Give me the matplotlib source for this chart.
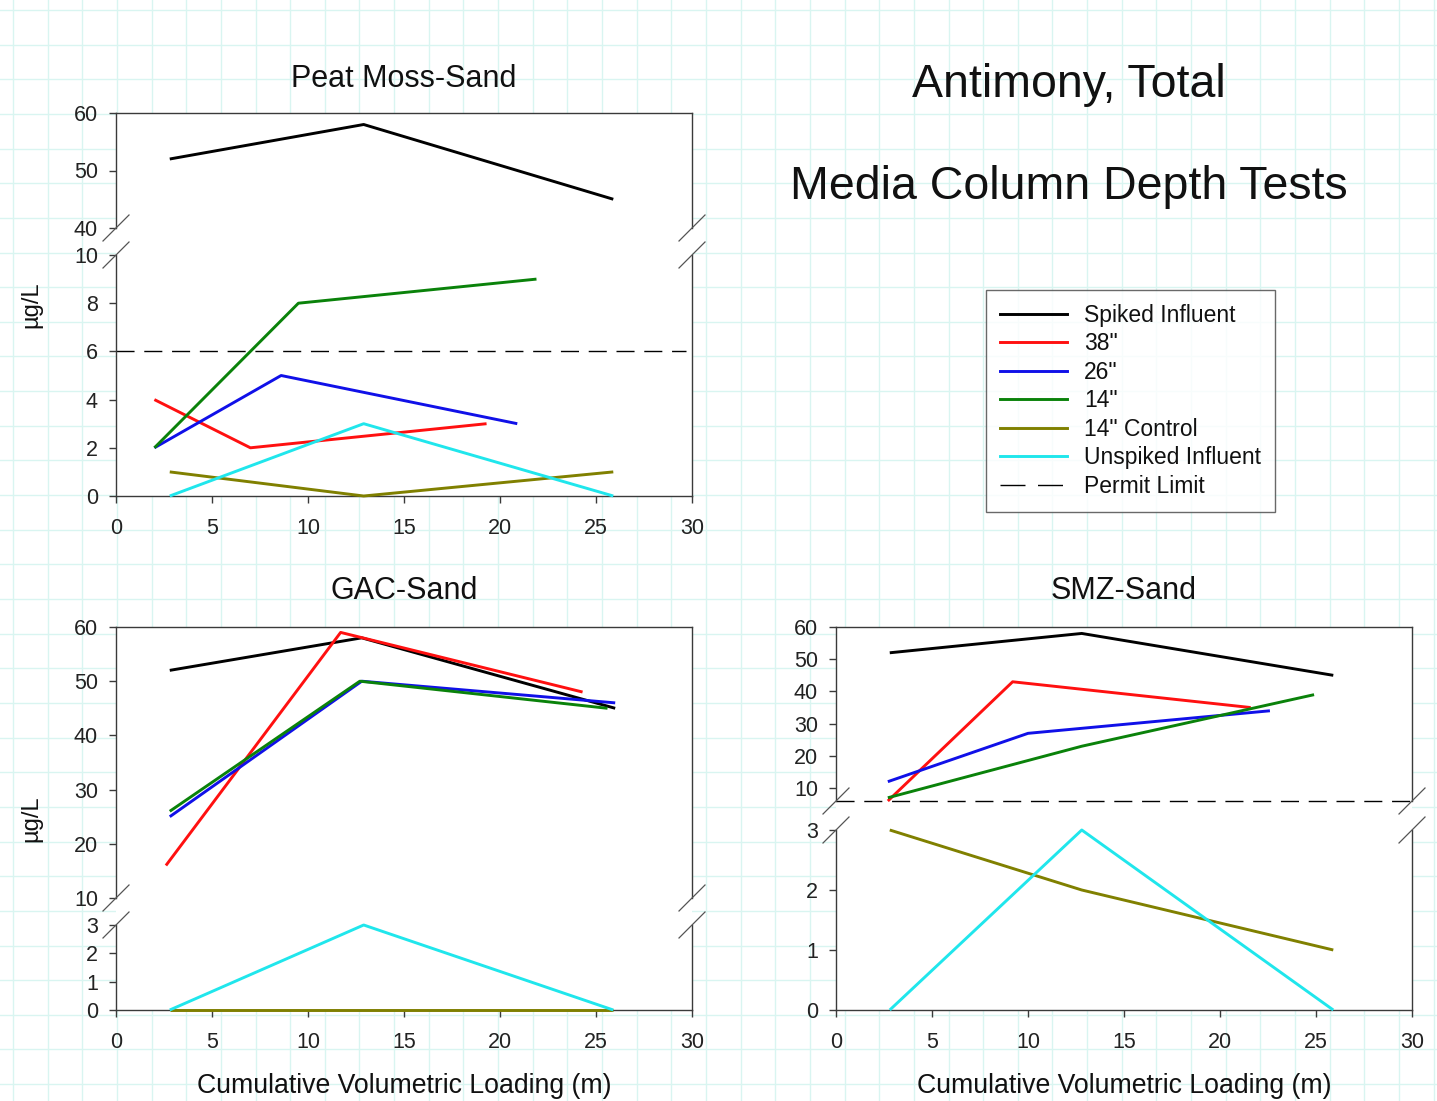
import matplotlib
matplotlib.use("Agg")
import matplotlib.pyplot as plt
from matplotlib.lines import Line2D
from matplotlib.patches import Rectangle

# ---------------- data ----------------
series_names = ["Spiked Influent", '38"', '26"', '14"', '14" Control', "Unspiked Influent", "Permit Limit"]
series_colors = ["#000000", "#ff1010", "#1010e8", "#0a820a", "#808000", "#20e6ec", "#000000"]
permit_limit = 6

x_inf = [2.8, 12.9, 25.9]

# Peat Moss-Sand
peat_spiked = [52, 58, 45]
peat_38_x = [2.0, 7.0, 19.3]
peat_38 = [4, 2, 3]
peat_26_x = [2.0, 8.6, 20.9]
peat_26 = [2, 5, 3]
peat_14_x = [2.0, 9.5, 21.9]
peat_14 = [2, 8, 9]
peat_ctrl = [1, 0, 1]
peat_unspiked = [0, 3, 0]

# GAC-Sand
gac_spiked = [52, 58, 45]
gac_38_x = [2.6, 11.7, 24.3]
gac_38 = [16, 59, 48]
gac_26_x = [2.8, 12.8, 26.0]
gac_26 = [25, 50, 46]
gac_14_x = [2.8, 12.7, 25.6]
gac_14 = [26, 50, 45]
gac_ctrl = [0, 0, 0]
gac_unspiked = [0, 3, 0]

# SMZ-Sand
smz_x = [2.8, 12.8, 25.9]
smz_spiked = [52, 58, 45]
smz_38_x = [2.7, 9.2, 21.6]
smz_38 = [6, 43, 35]
smz_26_x = [2.7, 10.0, 22.6]
smz_26 = [12, 27, 34]
smz_14_x = [2.7, 12.8, 24.9]
smz_14 = [7, 23, 39]
smz_ctrl = [3, 2, 1]
smz_unspiked = [0, 3, 0]

x_ticks = [0, 5, 10, 15, 20, 25, 30]

# ---------------- layout ----------------
W, H = 1437, 1101
plt.rcParams['font.family'] = ['Liberation Sans', 'DejaVu Sans']
fig = plt.figure(figsize=(W / 100, H / 100), dpi=100)
fig.patch.set_facecolor("white")


def rect(l, t, r, b):
    return [l / W, 1 - b / H, (r - l) / W, (b - t) / H]


# background grid paper
bg = fig.add_axes([0, 0, 1, 1], zorder=-10)
bg.set_xlim(0, W)
bg.set_ylim(H, 0)
bg.axis("off")
step = 34.65
gx = 13.0
while gx < W:
    bg.axvline(gx, color="#d9f5f1", lw=1.0, zorder=1)
    gx += step
gy = 10.0
while gy < H:
    bg.axhline(gy, color="#d9f5f1", lw=1.0, zorder=1)
    gy += step

# white panel backgrounds
for (l, t, r, b) in [(116, 113, 692, 496), (116, 627, 692, 1010), (836, 627, 1412, 1010)]:
    bg.add_patch(Rectangle((l, t), r - l, b - t, facecolor="white", edgecolor="none", zorder=5))

LW = 2.1
SPC = "#3a3a3a"
TICKFS = 15.5


def style(ax, upper):
    ax.set_facecolor("white")
    ax.set_xlim(0, 30)
    for s in ax.spines.values():
        s.set_color(SPC)
        s.set_linewidth(1.0)
    if upper:
        ax.spines["bottom"].set_visible(False)
        ax.tick_params(axis="x", bottom=False, labelbottom=False)
    else:
        ax.spines["top"].set_visible(False)
        ax.set_xticks(x_ticks)
        ax.tick_params(axis="x", direction="out", length=5, width=1, color=SPC,
                       labelsize=TICKFS, pad=11, labelcolor="#222222")
    ax.tick_params(axis="y", direction="out", length=5, width=1, color=SPC,
                   labelsize=TICKFS, pad=8, labelcolor="#222222")


def breakmarks(ax, where):
    pos = ax.get_position()
    y = pos.y0 if where == "bottom" else pos.y1
    dx = 13 / W
    dy = 13 / H
    for x in (pos.x0, pos.x1):
        fig.add_artist(Line2D([x - dx, x + dx], [y - dy, y + dy], transform=fig.transFigure,
                              color="#555555", lw=0.9))


def draw(ax, x, y, c):
    ax.plot(x, y, color=series_colors[c], lw=LW, clip_on=False, solid_capstyle="butt", zorder=3)


# ---- Peat Moss-Sand ----
pu = fig.add_axes(rect(116, 113, 692, 228))
pl = fig.add_axes(rect(116, 255, 692, 496))
style(pu, True)
style(pl, False)
pu.set_ylim(40, 60)
pu.set_yticks([40, 50, 60])
pl.set_ylim(0, 10)
pl.set_yticks([0, 2, 4, 6, 8, 10])
pl.axhline(permit_limit, color="black", lw=1.0, linestyle=(0, (13, 7)), xmax=0.99)
draw(pu, x_inf, peat_spiked, 0)
draw(pl, peat_38_x, peat_38, 1)
draw(pl, peat_26_x, peat_26, 2)
draw(pl, peat_14_x, peat_14, 3)
draw(pl, x_inf, peat_ctrl, 4)
draw(pl, x_inf, peat_unspiked, 5)
breakmarks(pu, "bottom")
breakmarks(pl, "top")

# ---- GAC-Sand ----
gu = fig.add_axes(rect(116, 627, 692, 898))
gl = fig.add_axes(rect(116, 925, 692, 1010))
style(gu, True)
style(gl, False)
gu.set_ylim(10, 60)
gu.set_yticks([10, 20, 30, 40, 50, 60])
gl.set_ylim(0, 3)
gl.set_yticks([0, 1, 2, 3])
draw(gu, [2.8, 12.8, 26.0], gac_spiked, 0)
draw(gu, gac_38_x, gac_38, 1)
draw(gu, gac_26_x, gac_26, 2)
draw(gu, gac_14_x, gac_14, 3)
draw(gl, x_inf, gac_ctrl, 4)
draw(gl, x_inf, gac_unspiked, 5)
breakmarks(gu, "bottom")
breakmarks(gl, "top")

# ---- SMZ-Sand ----
su = fig.add_axes(rect(836, 627, 1412, 801))
sl = fig.add_axes(rect(836, 830, 1412, 1010))
style(su, True)
style(sl, False)
su.set_ylim(6, 60)
su.set_yticks([10, 20, 30, 40, 50, 60])
sl.set_ylim(0, 3)
sl.set_yticks([0, 1, 2, 3])
su.axhline(permit_limit, color="black", lw=1.0, linestyle=(0, (13, 7)), clip_on=False)
draw(su, smz_x, smz_spiked, 0)
draw(su, smz_38_x, smz_38, 1)
draw(su, smz_26_x, smz_26, 2)
draw(su, smz_14_x, smz_14, 3)
draw(sl, smz_x, smz_ctrl, 4)
draw(sl, smz_x, smz_unspiked, 5)
breakmarks(su, "bottom")
breakmarks(sl, "top")

# ---- texts ----
def ftext(x, y, s, **kw):
    fig.text(x / W, 1 - y / H, s, ha="center", va="center", color="#111111", **kw)

ftext(404, 79, "Peat Moss-Sand", fontsize=22)
ftext(404, 591, "GAC-Sand", fontsize=22)
ftext(1124, 591, "SMZ-Sand", fontsize=22)
ftext(1069, 85, "Antimony, Total", fontsize=33.5)
ftext(1069, 187, "Media Column Depth Tests", fontsize=33.5)
ftext(404, 1086, "Cumulative Volumetric Loading (m)", fontsize=19.2)
ftext(1124, 1086, "Cumulative Volumetric Loading (m)", fontsize=19.2)
ftext(31, 305, "µg/L", fontsize=17, rotation=90)
ftext(31, 819, "µg/L", fontsize=17, rotation=90)

# ---- legend ----
handles = []
for i, name in enumerate(series_names):
    if name == "Permit Limit":
        handles.append(Line2D([], [], color=series_colors[i], lw=1.0, linestyle=(0, (18, 9))))
    else:
        handles.append(Line2D([], [], color=series_colors[i], lw=LW))
leg = fig.legend(handles, series_names, loc="upper left",
                 bbox_to_anchor=(986 / W, 1 - 290 / H), bbox_transform=fig.transFigure,
                 fontsize=16.5, frameon=True, fancybox=False, borderaxespad=0,
                 handlelength=2.95, handletextpad=0.74, labelspacing=0.24,
                 borderpad=0.6)
leg.get_frame().set_edgecolor("#444444")
leg.get_frame().set_linewidth(1.0)
for t in leg.get_texts():
    t.set_color("#111111")

fig.savefig("out.png", dpi=100, facecolor="white")
